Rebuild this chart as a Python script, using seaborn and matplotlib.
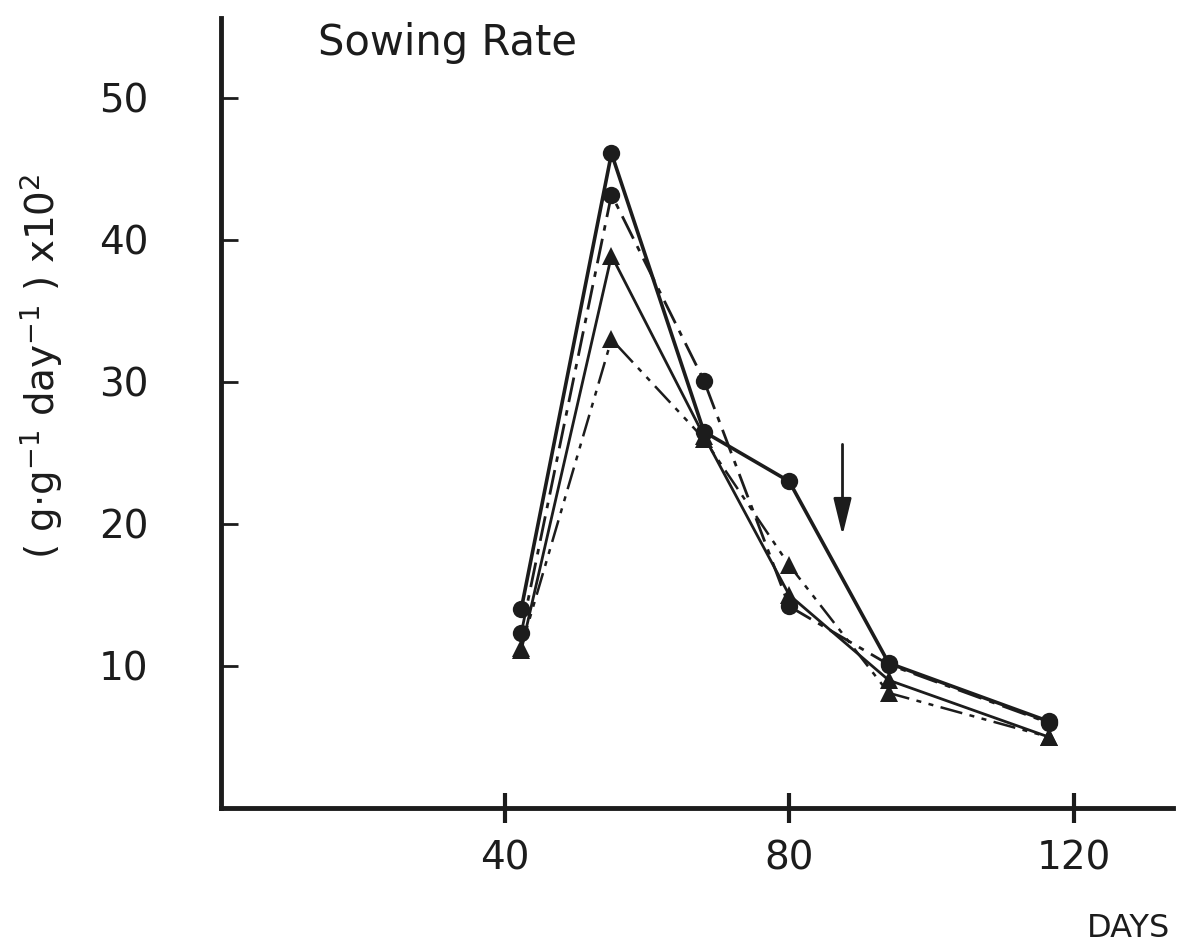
import numpy as np
import pandas as pd
import matplotlib
matplotlib.use("Agg")
import matplotlib.pyplot as plt
import seaborn as sns

# data
days = [42.3, 55, 68, 80, 94, 116.5]
circle_solid = [14.0, 46.1, 26.5, 23.0, 10.2, 6.1]
circle_dashdot = [12.3, 43.2, 30.1, 14.2, 10.1, 6.0]
tri_solid = [11.1, 38.9, 26.2, 15.0, 9.0, 5.0]
tri_dashdotdot = [11.3, 33.0, 26.0, 17.1, 8.1, 5.0]

x_ticks = [40, 80, 120]
y_ticks = [10, 20, 30, 40, 50]
arrow_x = 87.5
arrow_top, arrow_bottom = 25.8, 19.0

sns.set_style("ticks")
plt.rcParams['font.family'] = ['DejaVu Sans']
ink = '#1c1c1c'

fig = plt.figure(figsize=(11.96, 9.52), dpi=100)
ax = fig.add_axes([0.1844, 0.1513, 0.7964, 0.8293])

series = [
    (circle_solid, 'o', '-', 2.6, 12.5),
    (circle_dashdot, 'o', (0, (9, 3, 2, 3)), 2.0, 12.5),
    (tri_solid, '^', '-', 2.0, 13),
    (tri_dashdotdot, '^', (0, (9, 3, 2, 3, 2, 3)), 1.8, 13),
]
for vals, mk, ls, lw, ms in series:
    df = pd.DataFrame({'day': days, 'rate': vals})
    sns.lineplot(data=df, x='day', y='rate', ax=ax, color=ink,
                 marker=mk, markersize=ms, linestyle=ls, linewidth=lw,
                 markeredgewidth=0, markerfacecolor=ink)

ax.annotate('', xy=(arrow_x, arrow_bottom), xytext=(arrow_x, arrow_top),
            arrowprops=dict(arrowstyle='-|>,head_width=0.22,head_length=0.9',
                            color=ink, lw=2, mutation_scale=25))

ax.set_xlim(0, 134)
ax.set_ylim(0, 55.6)
ax.set_xticks(x_ticks)
ax.set_yticks(y_ticks)
ax.tick_params(axis='y', direction='in', length=12, width=2, pad=52,
               labelsize=28, colors=ink)
ax.tick_params(axis='x', direction='inout', length=22, width=3, pad=12,
               labelsize=28, colors=ink)
for s in ['top', 'right']:
    ax.spines[s].set_visible(False)
for s in ['left', 'bottom']:
    ax.spines[s].set_linewidth(3.5)
    ax.spines[s].set_color(ink)

ax.set_xlabel('')
ax.set_ylabel(r'( g$\cdot$g$^{-1}$ day$^{-1}$ ) x10$^2$', fontsize=28,
              color=ink)
ax.yaxis.set_label_coords(-0.163, 0.559)

ax.text(0.102, 0.995, 'Sowing Rate', transform=ax.transAxes, fontsize=30,
        ha='left', va='top', color=ink)
fig.text(0.978, 0.008, 'DAYS', fontsize=23, ha='right', va='bottom',
         color=ink)

plt.savefig('out.png', dpi=100)
